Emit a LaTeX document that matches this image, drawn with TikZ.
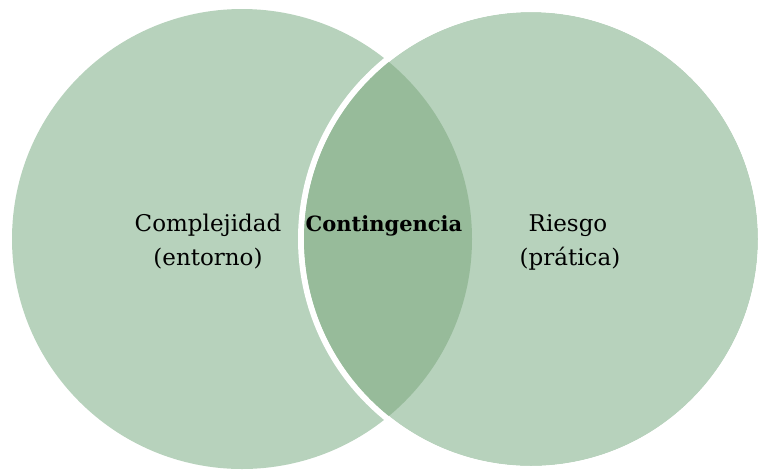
\documentclass[tikz,border=0pt]{standalone}
\usepackage{fontspec}
\setmainfont{DejaVu Serif}
\definecolor{lightg}{HTML}{B7D2BC}
\definecolor{darkg}{HTML}{97BB9A}
\tikzset{
  lbl/.style={anchor=base, font=\fontsize{23}{27}\selectfont, inner sep=0pt, text=black},
  blbl/.style={anchor=base, font=\fontsize{21}{25}\selectfont\bfseries, inner sep=0pt, text=black}
}
\begin{document}
\begin{tikzpicture}[x=1pt,y=-1pt]
\useasboundingbox (0,0) rectangle (759,469);
\fill[lightg] (242,239) circle[radius=230];
\fill[lightg] (531,239) circle[radius=227];
\draw[white, line width=6pt] (531,239) circle[radius=230];
\begin{scope}
  \clip (242,239) circle[radius=230];
  \fill[darkg] (531,239) circle[radius=227];
\end{scope}
\node[lbl] (c1) at (208,231) {Complejidad};
\node[lbl] (c2) at (208,265) {(entorno)};
\node[blbl] (k) at (384,231) {Contingencia};
\node[lbl] (r1) at (568,231) {Riesgo};
\node[lbl] (r2) at (570,265) {(prática)};
\end{tikzpicture}
\end{document}
